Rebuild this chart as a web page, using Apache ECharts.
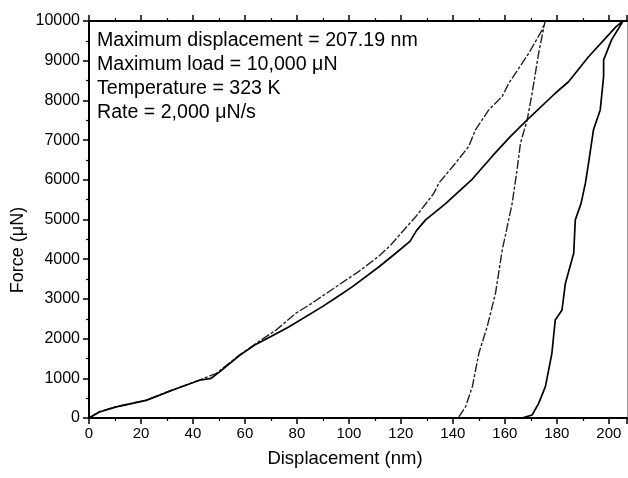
<!DOCTYPE html>
<html>
<head>
<meta charset="utf-8">
<script src="https://cdn.jsdelivr.net/npm/echarts@6/dist/echarts.min.js"></script>
<style>html,body{margin:0;padding:0;background:#fff}#c{width:628px;height:478px}</style>
</head>
<body>
<div id="c"></div>
<script>
// Curve A (dash-dot trace): loading and unloading, [displacement nm, force uN]
var loadA = [[0,0],[4,160],[10.5,285],[22,450],[32,705],[42.5,955],[49,1125],[58,1590],[64.3,1880],[72,2215],[79.6,2640],[86,2900],[93.8,3250],[104,3700],[111.6,4080],[116,4350],[120,4650],[125.7,5070],[132.7,5660],[134.6,5915],[141,6420],[146.1,6840],[148.7,7260],[153.8,7760],[159,8100],[161.5,8430],[166.7,8940],[169.2,9190],[174.4,9780],[175.5,10000]];
var unloadA = [[175.5,10000],[173,9190],[170.5,8180],[168.6,7510],[166,6920],[164.7,6250],[162.8,5400],[159,4230],[156.4,3140],[153.2,2300],[150,1630],[147.5,790],[144.9,285],[142.3,30],[141.5,0]];
// Curve B (solid trace)
var loadB = [[0,0],[4,150],[10.5,280],[22,445],[32,700],[42.5,950],[47,1000],[50,1150],[58,1580],[64.3,1860],[70,2050],[77,2300],[89.8,2805],[95,3030],[101.4,3310],[111.6,3810],[118,4150],[123.5,4450],[126,4720],[129.5,4990],[137.2,5400],[147.5,6020],[155.5,6620],[162,7080],[169.2,7550],[179.4,8180],[184.5,8470],[192.2,9100],[202.8,9860],[205.5,10000]];
var unloadB = [[205.5,10000],[201.1,9530],[198,9020],[198,8600],[196.7,7760],[194.1,7260],[192.2,6420],[191,5915],[189.3,5400],[187.1,4990],[186.5,4150],[183.3,3395],[182,2720],[179.4,2470],[178.1,1630],[175.6,790],[173,370],[170.5,75],[166.6,0]];
var infoLines = ['Maximum displacement = 207.19 nm','Maximum load = 10,000 \u03bcN','Temperature = 323 K','Rate = 2,000 \u03bcN/s'];
var xTitle = 'Displacement (nm)';
var yTitle = 'Force (\u03bcN)';

var FONT = '"Liberation Sans", Arial, sans-serif';
var chart = echarts.init(document.getElementById('c'), null, {renderer:'canvas'});
var graphics = infoLines.map(function(t, i){
  return {type:'text', left:97, top: 31 + i*24, silent:true,
    style:{text:t, fontSize:19.6, fontFamily:FONT, fill:'#000'}};
});
graphics.push({type:'text', x:345, y:459, silent:true,
  style:{text:xTitle, fontSize:18.5, fontFamily:FONT, fill:'#000', textAlign:'center', textVerticalAlign:'middle'}});
graphics.push({type:'text', x:18, y:250, rotation:Math.PI/2, silent:true,
  style:{text:yTitle, fontSize:18, fontFamily:FONT, fill:'#000', textAlign:'center', textVerticalAlign:'middle'}});

var axBase = {
  axisLine:{show:true, onZero:false, lineStyle:{color:'#000', width:2}},
  splitLine:{show:false},
  minorSplitLine:{show:false}
};
chart.setOption({
  animation:false,
  backgroundColor:'#fff',
  grid:{left:89, right:1, top:21, bottom:60, containLabel:false},
  xAxis:[
    Object.assign({}, axBase, {type:'value', position:'bottom', min:0, max:207, interval:20,
      axisTick:{show:true, inside:false, length:6, lineStyle:{color:'#000', width:1.5}},
      minorTick:{show:true, splitNumber:2, length:3, lineStyle:{color:'#000', width:1.2}},
      axisLabel:{color:'#000', fontSize:15, fontFamily:FONT, margin:8, showMaxLabel:false,
        formatter:function(v){return v % 20 === 0 ? String(v) : '';}}}),
    Object.assign({}, axBase, {type:'value', position:'top', min:0, max:207, interval:20,
      axisTick:{show:true, inside:false, length:6, lineStyle:{color:'#000', width:1.5}},
      minorTick:{show:true, splitNumber:2, length:3, lineStyle:{color:'#000', width:1.2}},
      axisLabel:{show:false}})
  ],
  yAxis:[
    Object.assign({}, axBase, {type:'value', position:'left', min:0, max:10000, interval:1000,
      axisTick:{show:true, inside:false, length:6, lineStyle:{color:'#000', width:1.5}},
      minorTick:{show:true, splitNumber:2, length:3, lineStyle:{color:'#000', width:1.2}},
      axisLabel:{color:'#000', fontSize:16, fontFamily:FONT, margin:9,
        formatter:function(v){return String(v);}}}),
    {type:'value', position:'right', min:0, max:10000, interval:1000,
      axisLine:{show:true, onZero:false, lineStyle:{color:'#999', width:1}},
      axisTick:{show:false}, axisLabel:{show:false}, splitLine:{show:false}}
  ],
  series:[
    {type:'line', name:'A', data:loadA.concat(unloadA), showSymbol:false, symbol:'none',
      lineStyle:{color:'#222', width:1.4, type:[9,2,3,2]}},
    {type:'line', name:'B', data:loadB.concat(unloadB), showSymbol:false, symbol:'none',
      lineStyle:{color:'#000', width:1.7}}
  ],
  graphic:graphics
});
</script>
</body>
</html>
